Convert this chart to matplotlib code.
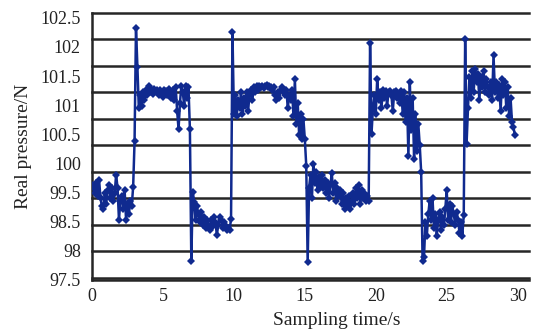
import numpy as np
import matplotlib
matplotlib.use("Agg")
import matplotlib.pyplot as plt

# ---- data ----
sample_interval = 0.1  # s
seg_a = [99.25, 99.22, 99.1, 99.3, 99.05, 99.35, 99.0, 98.85, 98.8, 99.1, 98.9, 99.15, 99.25, 99.0, 99.2,
         98.95, 99.1, 99.45, 99.2, 98.6, 98.95, 99.05, 98.8, 99.15, 98.6, 98.9, 98.7, 98.95, 98.85, 99.22]
rise_1 = [100.08, 102.22, 101.49]
seg_b = [100.7, 100.95, 100.75, 101.0, 100.85, 101.05, 100.95, 101.13, 101.0, 101.05, 100.97, 101.06,
         101.03, 101.05, 100.95, 101.05, 101.0, 100.92, 101.05, 101.02, 100.95, 101.06, 101.0, 100.9,
         101.05, 100.85, 101.1, 100.65, 100.31, 100.8, 101.13, 101.0, 100.75, 101.13, 100.9, 101.1]
fall_1 = [100.31, 97.82, 99.13]
seg_c = [98.94, 98.6, 98.85, 98.7, 98.55, 98.75, 98.5, 98.65, 98.45, 98.6, 98.5, 98.4, 98.6, 98.48,
         98.65, 98.55, 98.31, 98.5, 98.65, 98.6, 98.45, 98.55, 98.5, 98.4, 98.45, 98.4, 98.62]
rise_2 = [102.14]
seg_d = [100.6, 100.95, 100.55, 100.85, 100.7, 101.0, 100.6, 100.9, 100.75, 101.0, 100.65, 100.95,
         101.05, 100.85, 101.1, 101.0, 101.13, 101.05, 101.12, 101.1, 101.13, 101.08, 101.12, 101.15,
         101.1, 101.13, 101.1, 101.05, 101.1, 100.95, 100.85, 101.0, 100.9, 101.05, 101.1, 101.0,
         100.95, 101.05, 100.7, 100.95, 100.85, 101.05, 100.55, 101.25, 100.4, 100.8, 100.2, 100.6,
         100.12, 100.5, 100.12]
fall_2 = [99.62, 97.8]
seg_e = [99.2, 99.45, 99.0, 99.65, 99.3, 99.5, 99.15, 99.4, 99.25, 99.45, 99.2, 99.35, 99.1, 99.3,
         99.0, 99.25, 99.48, 99.1, 99.3, 98.95, 99.2, 99.05, 99.15, 98.9, 99.1, 98.8, 99.0, 98.85,
         99.05, 98.8, 98.95, 99.1, 98.9, 99.2, 99.0, 99.25, 98.9, 99.15, 99.0, 99.1, 98.95, 99.05, 98.96]
rise_3 = [101.94]
seg_f = [100.22, 100.7, 100.95, 100.6, 101.25, 100.85, 101.0, 100.7, 101.05, 100.9, 101.02, 100.75,
         101.0, 101.02, 100.95, 100.65, 101.0, 101.02, 100.9, 100.95, 100.8, 101.02, 100.6, 101.0,
         100.45, 100.9, 99.8, 101.2, 100.3, 100.9, 99.75, 100.6, 99.9, 100.4, 100.0]
fall_3 = [99.5, 97.82]
seg_g = [97.9, 98.55, 98.3, 98.7, 98.95, 98.6, 99.0, 98.45, 98.7, 98.3, 98.6, 98.75, 98.4, 98.65,
         98.5, 98.8, 99.15, 98.6, 98.9, 98.55, 98.85, 98.7, 98.5, 98.75, 98.6, 98.35, 98.55, 98.3, 98.68]
rise_4 = [102.01]
seg_h = [100.03, 100.7, 101.3, 100.9, 101.4, 101.0, 101.45, 101.2, 101.35, 100.85, 101.3, 101.1,
         101.4, 101.0, 101.25, 101.1, 100.95, 101.2, 100.85, 101.7, 101.0, 101.2, 100.9, 101.15,
         100.65, 101.25, 100.95, 101.2, 100.7, 101.1, 100.55, 100.9, 100.45, 100.35, 100.2]

pressure = np.array(seg_a + rise_1 + seg_b + fall_1 + seg_c + rise_2 + seg_d + fall_2 + seg_e
                    + rise_3 + seg_f + fall_3 + seg_g + rise_4 + seg_h)
time = np.arange(len(pressure)) * sample_interval

x_ticks = [0, 5, 10, 15, 20, 25, 30]
grid_levels = [97.5, 98.0, 98.5, 99.0, 99.5, 100.0, 100.5, 101.0, 101.5, 102.0, 102.5]
y_tick_labels = ["102.5", "102", "101.5", "101", "100.5", "100", "99.5", "98.5", "98", "97.5"]

# ---- figure ----
plt.rcParams['font.family'] = ['Liberation Serif', 'DejaVu Serif']
fig = plt.figure(figsize=(5.34, 3.36), dpi=100)
ax = fig.add_axes([92 / 534, 1 - 280 / 336, (529 - 92) / 534, (280 - 13) / 336])

for g in grid_levels:
    ax.axhline(g, color='#262626', lw=1.8, zorder=1, clip_on=False)

line_color = '#102a8f'
ax.plot(time, pressure, color=line_color, lw=1.8, marker='D', markersize=4.0,
        markeredgewidth=0, zorder=3)

ax.set_xlim(0, 30.8)
ax.set_ylim(97.5, 102.5)

ax.set_xticks(x_ticks)
ax.set_xticklabels([str(v) for v in x_ticks])
label_pos = np.linspace(102.41, 97.46, len(y_tick_labels))
ax.set_yticks(label_pos)
ax.set_yticklabels(y_tick_labels)
ax.tick_params(axis='both', length=0, labelsize=13, colors='#222222')
ax.tick_params(axis='y', pad=8)
ax.tick_params(axis='x', pad=6)

for s in ['top', 'right']:
    ax.spines[s].set_visible(False)
for s in ['left', 'bottom']:
    ax.spines[s].set_color('#262626')
    ax.spines[s].set_linewidth(1.8)

ax.set_xlabel("Sampling time/s", fontsize=14, color='#222222')
ax.xaxis.set_label_coords(0.56, -0.12)
ax.set_ylabel("Real pressure/N", fontsize=14, color='#222222')
ax.yaxis.set_label_coords(-0.138, 0.5)

fig.savefig("out.png", dpi=100)
